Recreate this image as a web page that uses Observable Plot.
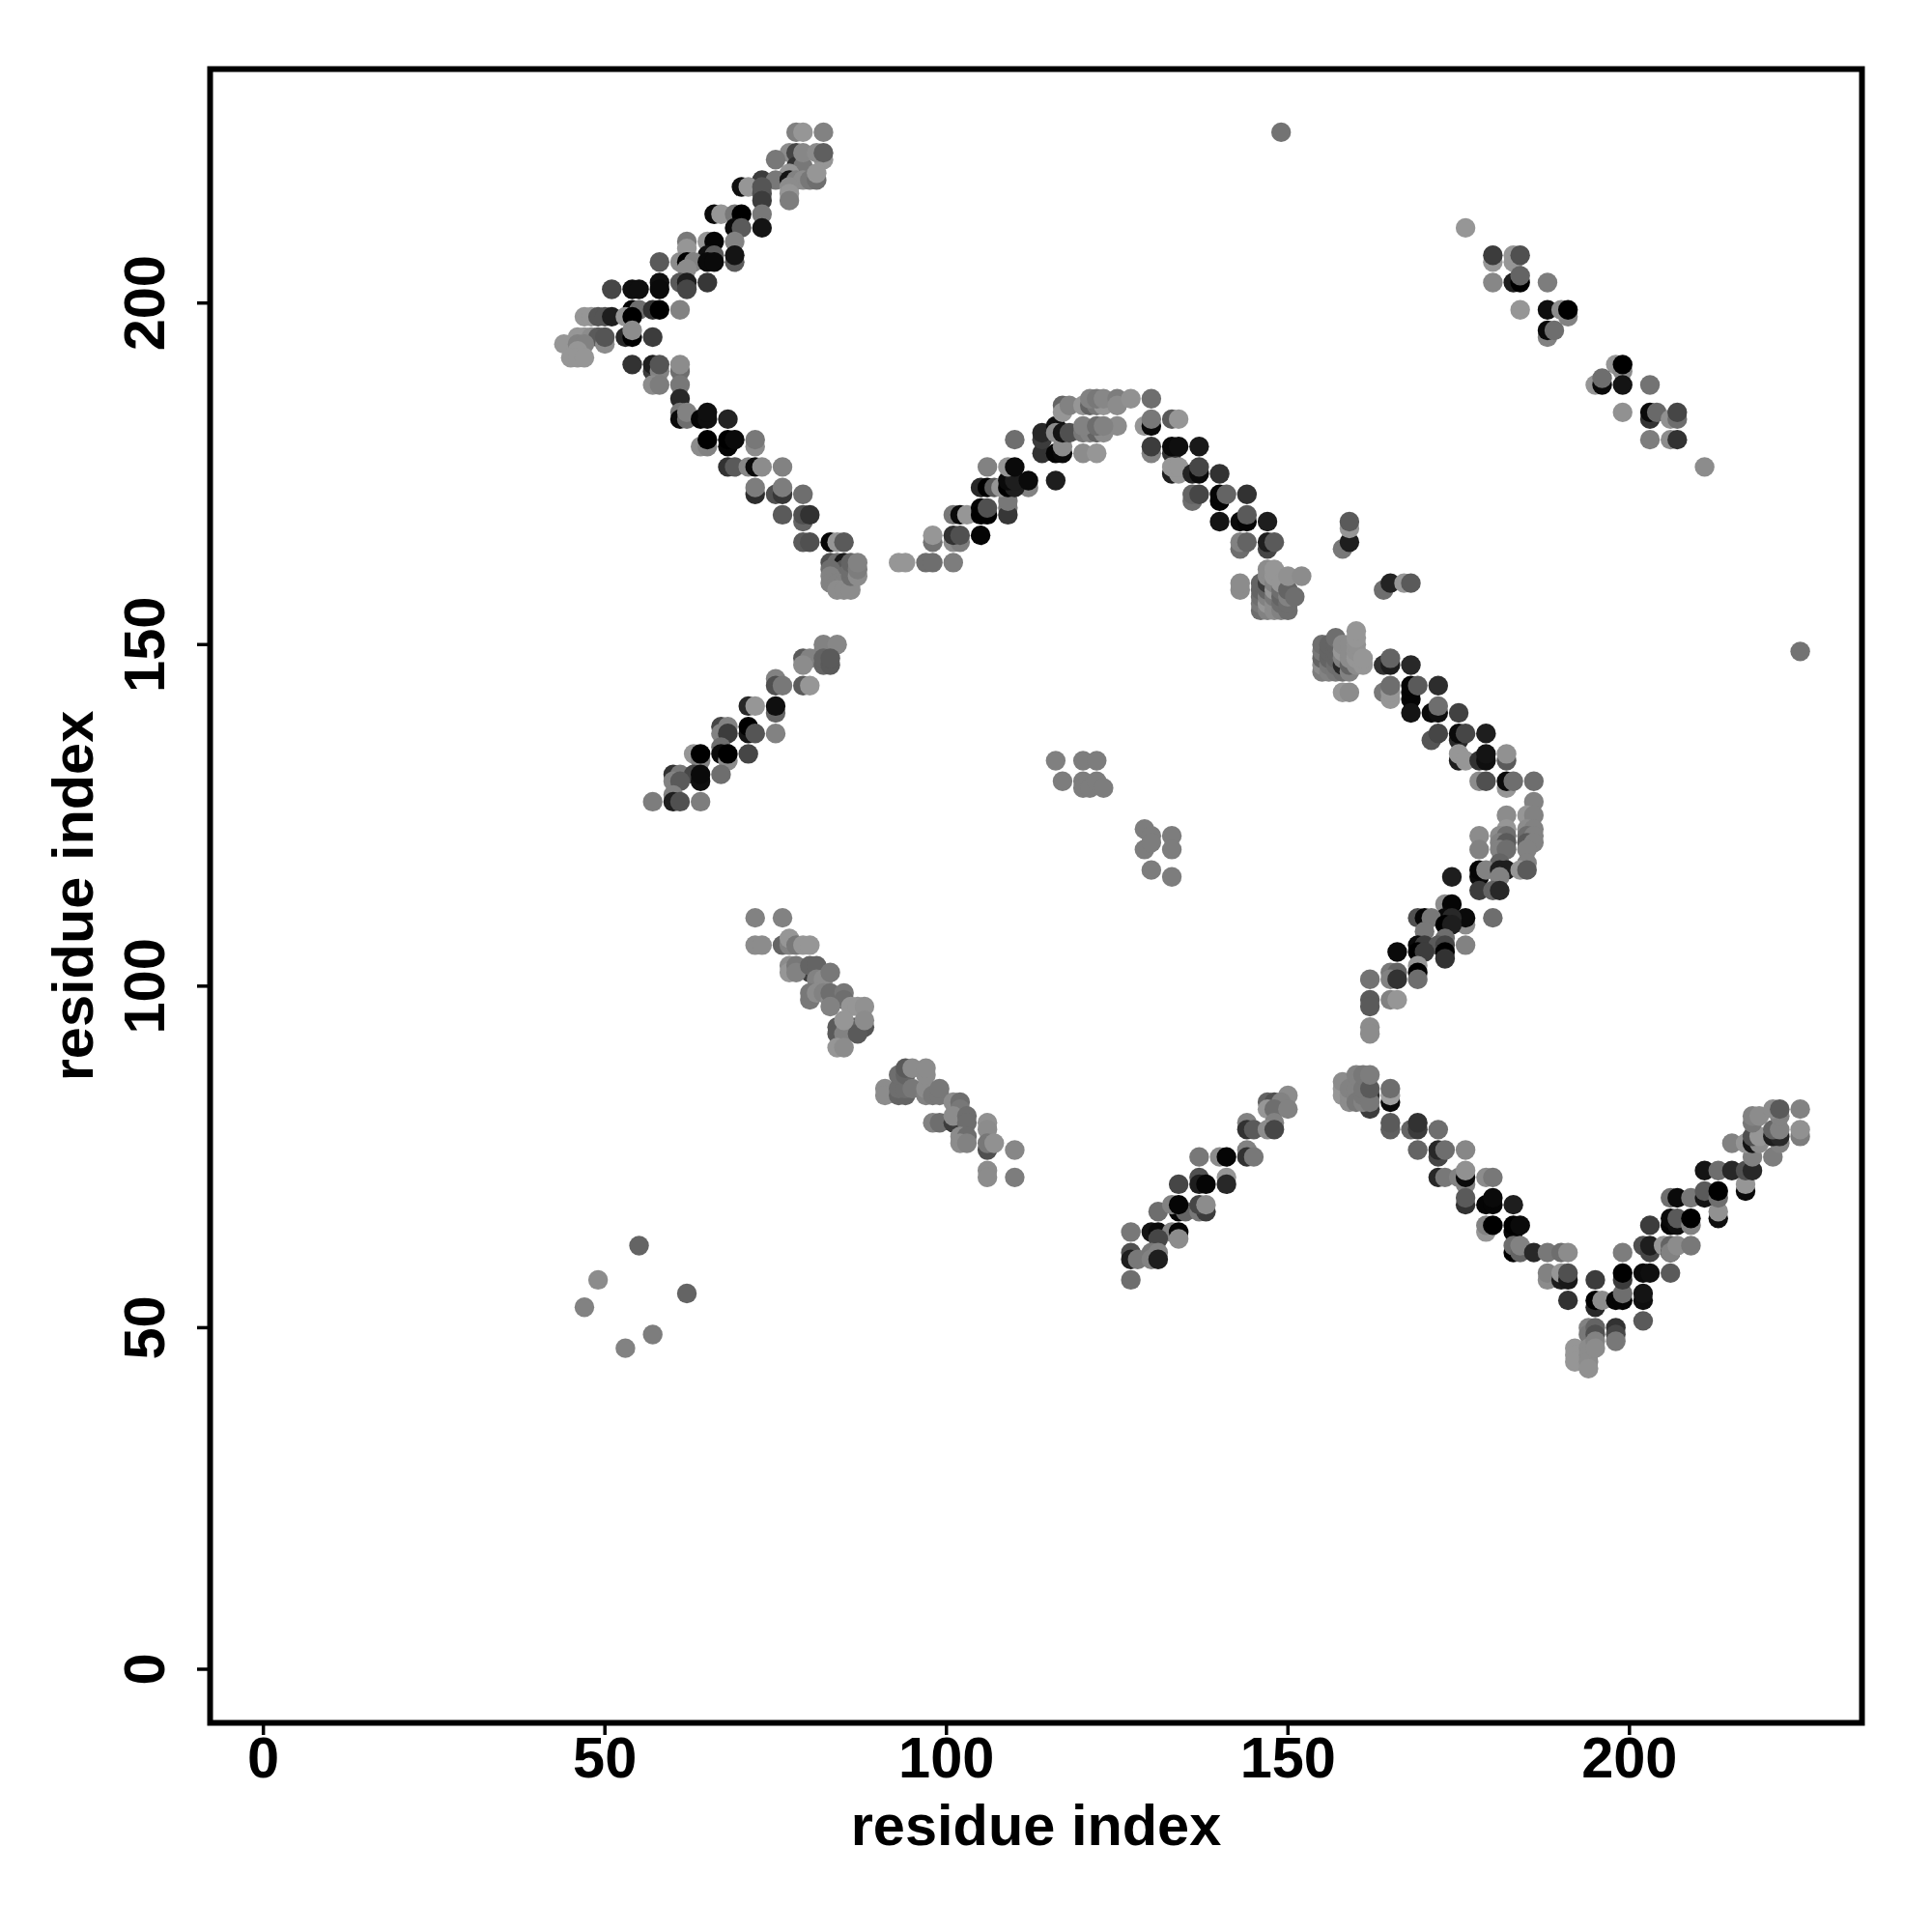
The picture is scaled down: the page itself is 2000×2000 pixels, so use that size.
<!DOCTYPE html>
<html><head><meta charset="utf-8">
<script src="https://cdn.jsdelivr.net/npm/d3@7"></script>
<script src="https://cdn.jsdelivr.net/npm/@observablehq/plot@0.6"></script>
<style>html,body{margin:0;padding:0;background:#fff}</style>
</head><body><div id="c"></div>
<script>
const tickValues=[0,50,100,150,200];
const axisTitle="residue index";
// each contact: [residue x, residue y, grey level]
const upperLeftArm=[[78,225,128],[79,225,150],[82,225,130],[82,221,150],[77,222,140],[78,222,70],[78,220,50],[79,220,120],[79,222,135],[81,222,140],[82,222,95],[75,221,120],[77,219,150],[73,218,60],[75,218,120],[77,218,20],[78,218,130],[79,218,140],[80,218,120],[81,218,110],[81,219,150],[70,217,15],[71,217,150],[73,216,80],[73,217,85],[77,217,140],[77,216,150],[73,215,60],[77,215,125],[66,213,10],[67,213,150],[69,213,120],[70,213,0],[73,213,120],[69,211,10],[70,211,90],[73,211,20],[62,209,120],[65,209,150],[66,209,5],[69,209,130],[62,208,150],[65,207,15],[66,207,90],[69,206,90],[69,207,20],[58,206,90],[61,206,140],[62,206,0],[63,206,130],[65,206,10],[66,206,10],[62,205,140],[58,203,15],[61,203,90],[62,203,30],[65,203,55],[51,202,70],[54,202,15],[55,202,15],[58,202,10],[62,202,70],[54,199,0],[55,199,110],[57,199,50],[58,199,0],[61,199,130],[47,198,150],[48,198,150],[49,198,85],[50,198,85],[51,198,30],[53,198,150],[54,198,0],[46,195,150],[47,195,150],[48,195,140],[49,195,90],[50,194,140],[50,195,85],[53,195,40],[54,195,0],[54,196,140],[57,195,60],[44,194,150],[46,194,130],[47,194,130],[46,193,150],[45,192,150],[46,192,150],[47,192,150]];
const upperLeftDown=[[54,191,50],[57,190,60],[57,191,30],[58,190,130],[58,191,85],[61,190,110],[61,191,140],[57,188,140],[58,188,125],[61,188,120],[61,186,40],[61,184,120],[61,183,10],[62,183,110],[62,184,130],[64,183,5],[65,183,15],[65,184,15],[68,183,35],[64,179,140],[65,179,130],[65,180,0],[68,179,5],[68,180,0],[69,180,10],[72,179,140],[72,180,120],[68,176,50],[69,176,90],[71,176,135],[72,176,10],[73,176,140],[76,176,130],[72,172,45],[72,173,125],[75,172,80],[76,172,55],[76,173,125],[79,172,110],[76,169,90],[79,168,100],[79,169,80],[80,169,50],[79,165,90],[80,165,80],[83,165,5],[84,165,150],[85,165,90]];
const leftKnot=[[83,162,80],[84,162,110],[85,162,25],[85,161,90],[85,160,110],[83,161,110],[83,160,130],[83,159,130],[84,159,130],[85,159,130],[86,159,130],[84,158,140],[85,158,140],[86,158,140],[86,160,110],[86,161,110],[86,162,100],[87,160,140],[87,161,125],[87,162,130]];
const upperArc=[[93,162,150],[94,162,150],[97,162,110],[98,162,110],[101,162,125],[98,165,115],[101,165,140],[102,165,125],[98,166,150],[101,166,50],[102,166,80],[105,166,5],[101,169,120],[102,169,10],[103,169,150],[105,170,5],[105,169,0],[106,169,0],[106,170,80],[109,170,120],[109,169,55],[109,171,120],[105,173,40],[106,173,0],[107,173,90],[108,173,150],[112,173,130],[109,173,0],[110,173,30],[109,174,10],[110,174,30],[112,174,10],[116,174,30],[106,176,130],[109,176,150],[110,176,10],[110,180,110],[114,178,50],[116,178,5],[117,178,10],[117,179,140],[120,178,140],[122,178,150],[114,180,60],[114,181,40],[116,182,15],[116,181,140],[117,181,20],[118,181,80],[120,181,120],[121,181,130],[122,181,100],[123,181,140],[125,182,140],[120,182,130],[122,182,110],[123,182,130],[117,185,100],[117,184,150],[118,185,130],[120,185,150],[121,185,100],[122,185,120],[123,185,150],[121,186,130],[122,186,120],[123,186,135],[125,186,125],[125,185,140],[127,186,145],[130,186,110]];
const upperArcDown=[[129,182,150],[130,182,10],[130,183,120],[133,183,90],[134,183,150],[130,178,130],[130,179,60],[133,178,50],[133,179,10],[134,179,15],[137,179,25],[133,175,30],[134,175,150],[133,176,150],[134,176,150],[136,175,35],[137,175,10],[137,176,70],[140,175,50],[136,171,110],[136,172,100],[137,172,70],[140,171,5],[140,172,5],[141,172,100],[144,172,50],[140,168,20],[143,168,10],[144,168,5],[144,169,90],[147,168,30],[143,164,110],[143,165,130],[144,165,100],[147,164,70],[147,165,30],[148,165,90],[143,158,140],[143,159,140]];
const centreKnot=[[146,155,110],[146,156,120],[146,157,110],[146,158,100],[146,159,100],[147,155,130],[147,156,150],[147,157,130],[147,158,100],[147,159,60],[147,160,140],[147,161,140],[148,155,140],[148,156,140],[148,157,120],[148,158,150],[148,159,130],[148,160,150],[148,161,150],[149,155,130],[149,156,110],[149,157,100],[149,158,110],[149,159,150],[150,155,110],[150,156,110],[150,157,130],[150,158,100],[150,160,145],[151,157,110],[152,160,140]];
const sideBits=[[158,164,120],[159,165,30],[159,167,150],[159,168,90],[164,158,110],[165,159,35],[167,159,150],[168,159,90],[149,225,115],[225,149,115],[176,211,150]];
const rightKnot=[[155,146,125],[155,147,140],[155,148,100],[155,149,120],[155,150,110],[156,146,130],[156,147,120],[156,148,100],[156,149,100],[156,150,100],[157,146,120],[157,147,110],[157,148,100],[157,149,100],[157,150,100],[157,151,110],[158,146,110],[158,147,40],[158,148,130],[158,149,150],[158,150,140],[159,146,130],[159,147,100],[159,148,140],[159,149,140],[159,150,140],[160,147,140],[160,148,150],[160,149,145],[160,150,145],[160,151,150],[160,152,150],[161,147,150],[161,148,150],[158,143,150],[159,143,140]];
const rightArmDown=[[164,147,50],[165,147,30],[165,148,100],[168,147,40],[164,143,120],[165,142,150],[165,143,150],[165,144,110],[168,142,5],[168,143,5],[168,144,5],[169,144,90],[172,144,45],[168,140,20],[171,140,10],[172,140,15],[172,141,110],[175,140,65],[171,136,85],[172,137,70],[175,136,40],[175,137,10],[176,137,70],[179,137,30],[175,133,30],[175,134,150],[176,133,150],[178,133,50],[179,133,15],[179,134,20],[182,133,90],[182,134,145],[178,130,140],[179,130,80],[182,129,150],[182,130,10],[183,130,110],[186,130,110],[186,127,130]];
const rightArmBend=[[182,125,140],[185,125,150],[186,125,130],[182,123,150],[185,123,140],[186,123,130],[178,122,140],[181,122,140],[182,122,110],[185,122,110],[186,122,130],[181,121,130],[182,121,90],[185,121,90],[186,121,130],[178,120,130],[181,120,130],[182,120,110],[185,120,130],[181,118,100],[185,118,130],[178,116,10],[178,117,5],[179,117,130],[181,117,30],[182,117,30],[181,116,130],[184,117,150],[185,117,90],[174,116,30],[178,114,60],[180,114,100],[181,114,40],[173,112,140],[174,112,5],[180,110,110],[176,109,140],[176,110,10],[173,110,10],[174,110,40],[169,110,80],[170,110,5],[171,110,120],[173,109,0],[174,109,30],[170,108,120],[173,107,110],[176,106,130],[169,106,10],[170,106,60],[172,106,90],[173,106,70],[166,105,10],[169,105,0],[170,105,60],[173,105,0],[173,104,50],[169,103,150],[165,102,120],[166,102,100],[169,102,0],[162,101,115],[165,101,130],[166,101,50],[169,101,110],[162,98,90],[165,98,130],[166,98,150],[162,97,90],[162,94,140],[162,93,140]];
const upperRightBand=[[180,206,150],[180,207,60],[183,206,150],[183,207,150],[184,207,80],[180,203,135],[183,203,30],[184,203,0],[184,204,100],[188,203,125],[184,199,150],[188,199,15],[191,198,130],[190,199,140],[191,199,0],[188,195,130],[188,196,10],[189,196,110],[198,191,150],[199,190,140],[199,191,0],[195,188,150],[196,188,10],[196,189,110],[199,188,20],[203,188,115],[199,184,145],[203,183,50],[203,184,10],[204,184,105],[206,183,145],[207,183,110],[207,184,70],[203,180,125],[206,180,140],[207,180,50],[211,176,140]];
const midLeftArm=[[82,149,130],[82,150,130],[84,150,135],[79,148,90],[80,148,130],[79,147,140],[82,147,100],[82,148,100],[83,147,90],[83,148,90],[75,145,130],[75,144,80],[76,144,120],[79,144,90],[80,144,150],[71,141,40],[72,141,150],[75,140,100],[75,141,15],[67,138,70],[68,138,130],[71,137,20],[71,138,0],[72,137,85],[67,137,130],[68,137,60],[75,137,130],[67,135,110],[63,134,150],[67,134,10],[64,133,130],[64,134,0],[68,133,140],[68,134,0],[71,134,70],[60,131,50],[61,131,120],[63,131,70],[64,130,15],[64,131,10],[67,131,110],[60,130,130],[61,130,90],[60,128,130],[57,127,125],[60,127,30],[61,127,80],[64,127,125]];
const lowerLeftBand=[[72,110,130],[76,110,130],[72,106,140],[73,106,140],[76,106,100],[77,106,130],[77,107,150],[78,106,120],[79,106,150],[80,106,150],[80,102,60],[81,102,60],[77,103,140],[77,102,150],[78,103,120],[78,102,130],[80,103,100],[81,103,100],[81,101,130],[82,101,140],[83,102,120],[80,98,120],[80,99,120],[81,99,140],[82,99,130],[83,98,140],[83,99,110],[85,99,120],[85,98,110],[84,94,90],[84,93,90],[83,97,130],[87,94,80],[88,94,85],[86,94,100],[85,93,130],[87,93,90],[86,97,150],[87,97,150],[88,97,145],[85,95,150],[88,95,140],[84,91,150],[85,91,140],[91,85,140],[91,84,140],[93,84,100],[94,84,100],[93,85,110],[94,85,110],[93,87,110],[94,87,100],[94,88,90],[95,88,140],[95,85,120],[97,84,130],[97,85,140],[97,87,140],[97,88,140],[98,80,130],[99,80,110],[98,84,120],[99,84,120],[99,85,120],[101,83,140],[102,83,110],[102,82,120],[101,80,60],[101,81,140],[103,81,110],[103,80,110],[102,78,140],[103,78,110],[102,77,140],[103,77,130],[106,80,145],[106,79,140],[106,76,80],[106,77,120],[107,77,145],[110,76,135],[106,73,140],[106,72,140],[110,72,125]];
const centreIslands=[[116,133,128],[120,133,125],[122,133,125],[117,130,125],[120,130,125],[120,129,125],[121,129,125],[122,130,125],[123,129,125],[129,123,125],[130,122,125],[129,120,125],[130,121,125],[133,122,125],[133,120,125],[130,117,125],[133,116,125],[47,53,130],[49,57,140],[53,47,130],[57,49,125],[55,62,100],[62,55,100]];
const lowerMidArm=[[150,84,140],[147,83,100],[148,83,80],[149,83,130],[147,82,150],[148,82,110],[150,82,130],[144,80,130],[148,80,130],[144,79,50],[145,79,90],[147,79,140],[148,79,70],[144,76,130],[137,75,120],[140,75,140],[141,75,5],[144,75,50],[145,75,120],[137,72,80],[141,72,150],[134,71,70],[137,71,30],[138,71,5],[141,71,40],[131,67,110],[134,67,5],[135,67,100],[137,67,120],[138,67,60],[133,68,130],[134,68,5],[137,68,70],[138,68,140],[127,64,120],[130,64,20],[131,64,10],[133,64,130],[134,64,5],[131,63,70],[134,63,140],[127,61,80],[130,61,120],[131,61,130],[127,60,30],[128,60,120],[130,60,130],[131,60,30],[127,57,110]];
const lowerKnot=[[162,84,50],[162,82,60],[158,85,150],[158,84,150],[158,86,140],[159,83,140],[159,84,140],[159,85,130],[160,84,130],[160,85,130],[160,87,130],[160,83,120],[161,83,130],[161,84,120],[161,85,120],[161,87,120],[162,83,120],[162,85,90],[162,87,125]];
const lowerRightDown=[[165,83,10],[165,84,160],[165,85,110],[165,79,95],[165,80,90],[168,79,100],[169,79,60],[169,80,50],[172,79,110],[169,76,100],[172,75,70],[172,76,40],[173,76,110],[176,76,135],[172,72,40],[173,72,120],[175,72,130],[176,71,130],[176,72,10],[176,73,145],[179,72,140],[180,72,120],[176,68,50],[176,69,90],[179,68,5],[180,68,5],[180,69,10],[183,68,30],[179,64,150],[179,65,130],[180,65,0],[183,64,5],[183,65,0],[184,65,10],[183,61,0],[183,62,110],[184,61,100],[184,62,130],[186,61,40],[188,61,120],[190,61,110],[191,61,140],[188,57,140],[188,58,130],[190,57,30],[190,58,150],[191,57,25],[191,58,80]];
const lowerKnotRight=[[192,47,150],[192,46,150],[192,45,150],[194,50,130],[194,49,120],[194,47,140],[194,46,140],[194,45,140],[194,44,145],[195,50,100],[195,49,80],[195,48,130],[195,47,140],[198,50,50],[198,49,70],[198,48,120]];
const lowerRightUp=[[191,54,50],[195,53,40],[195,54,0],[195,57,60],[196,54,140],[198,54,5],[199,54,5],[199,55,110],[199,57,60],[199,58,0],[199,61,125],[202,51,90],[202,54,15],[202,55,20],[202,58,10],[202,62,80],[203,58,15],[203,61,70],[203,62,30],[203,65,60],[205,62,150],[206,61,20],[206,58,90],[206,62,100],[206,61,130],[207,62,140],[209,62,120],[206,65,5],[206,66,10],[207,65,15],[207,66,90],[209,65,130],[209,66,0],[213,66,15],[213,67,145],[206,69,110],[207,69,10],[209,69,120],[211,69,20],[211,70,90],[213,69,110],[213,70,0],[217,70,10],[217,71,150],[211,73,20],[213,73,110],[215,73,40],[217,73,80],[218,73,40],[218,75,130],[221,75,125],[215,77,130],[217,77,150],[218,77,20],[219,77,140],[222,77,130],[218,78,80],[219,78,150],[221,78,30],[222,78,40],[225,78,125],[221,79,100],[222,79,130],[225,79,145],[218,80,120],[218,81,130],[219,81,140],[222,81,130],[221,82,140],[222,82,90],[225,82,130]];

const contacts=[upperLeftArm,upperLeftDown,leftKnot,upperArc,upperArcDown,centreKnot,sideBits,rightKnot,rightArmDown,rightArmBend,upperRightBand,midLeftArm,lowerLeftBand,centreIslands,lowerMidArm,lowerKnot,lowerRightDown,lowerKnotRight,lowerRightUp].flat().map(([x,y,g])=>({x,y,g}));

const chart=Plot.plot({
  width:2000,height:2000,
  marginLeft:217,marginRight:73,marginTop:71,marginBottom:217,
  style:{fontFamily:"'Liberation Sans',Arial,sans-serif",fontWeight:"bold",fontSize:"59.5px",background:"#fff",color:"#000"},
  x:{domain:[-7.8,234.04]},
  y:{domain:[-7.85,234.25]},
  color:{type:"linear",domain:[0,255],range:["#000","#fff"]},
  marks:[
    Plot.dot(contacts,{x:"x",y:"y",fill:"g",r:10.2,stroke:"none"}),
    Plot.frame({stroke:"#000",strokeWidth:6}),
    Plot.axisX({ticks:tickValues,tickFormat:d=>String(d),tickSize:13,tickPadding:1,strokeWidth:3.5,label:axisTitle,labelAnchor:"center",labelOffset:126,labelArrow:"none"}),
    Plot.axisY({ticks:tickValues,tickFormat:d=>String(d),tickSize:13,tickPadding:35,strokeWidth:3.5,tickRotate:-90,label:axisTitle,labelAnchor:"center",labelOffset:164,labelArrow:"none"})
  ]
});
document.getElementById("c").appendChild(chart);
</script></body></html>
